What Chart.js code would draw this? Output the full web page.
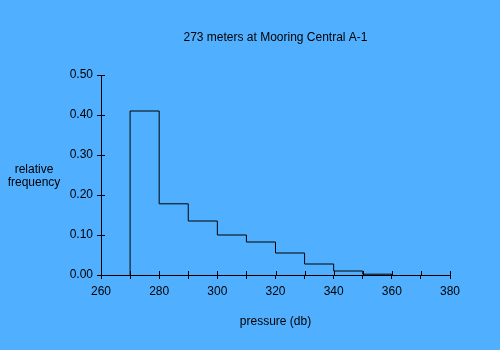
<!DOCTYPE html>
<html>
<head>
<meta charset="utf-8">
<script src="https://cdn.jsdelivr.net/npm/chart.js@4/dist/chart.umd.min.js"></script>
<style>
  html,body{margin:0;padding:0;background:#50B0FF;}
  #wrap{width:500px;height:350px;position:relative;}
</style>
</head>
<body>
<div id="wrap"><canvas id="c" width="500" height="350"></canvas></div>
<script>
const chartTitle = "273 meters at Mooring Central A-1";
const xTitle = "pressure (db)";
const yTitleLines = ["relative", "frequency"];
const binStarts = [270, 280, 290, 300, 310, 320, 330, 340, 350];
const binWidth = 10;
const frequencies = [0.41, 0.178, 0.135, 0.100, 0.0825, 0.055, 0.0275, 0.010, 0.002];
const xTickValues = [260, 280, 300, 320, 340, 360, 380];
const yTickValues = [0.0, 0.1, 0.2, 0.3, 0.4, 0.5];

// build step outline points from the bins
const points = [{x: binStarts[0], y: 0}];
binStarts.forEach((s, i) => points.push({x: s, y: frequencies[i]}));
points.push({x: binStarts[binStarts.length - 1] + binWidth, y: 0});

const FONT = "'Liberation Sans', Arial, sans-serif";

const extras = {
  id: 'extras',
  afterDraw(chart) {
    const ctx = chart.ctx;
    const xs = chart.scales.x, ys = chart.scales.y;
    ctx.save();
    ctx.strokeStyle = '#000';
    ctx.lineWidth = 1;
    // inward halves of crossing tick marks
    ctx.beginPath();
    xs.ticks.forEach(t => {
      const px = Math.round(xs.getPixelForValue(t.value)) + 0.5;
      ctx.moveTo(px, ys.bottom);
      ctx.lineTo(px, ys.bottom - 4);
    });
    ys.ticks.forEach(t => {
      const py = Math.round(ys.getPixelForValue(t.value)) + 0.5;
      ctx.moveTo(xs.left, py);
      ctx.lineTo(xs.left + 4, py);
    });
    ctx.stroke();
    // texts
    ctx.fillStyle = '#000';
    ctx.font = '12px ' + FONT;
    ctx.textAlign = 'center';
    ctx.textBaseline = 'middle';
    ctx.fillText(chartTitle, (xs.left + xs.right) / 2, 38);
    ctx.fillText(xTitle, (xs.left + xs.right) / 2, 322);
    ctx.fillText(yTitleLines[0], 34, 170);
    ctx.fillText(yTitleLines[1], 34, 183);
    ctx.restore();
  }
};

new Chart(document.getElementById('c'), {
  type: 'line',
  data: {
    datasets: [{
      data: points,
      stepped: 'before',
      borderColor: '#000',
      borderWidth: 1,
      pointRadius: 0,
      fill: false
    }]
  },
  options: {
    responsive: false,
    animation: false,
    layout: {padding: {left: 0, right: 50, top: 75, bottom: 0}},
    plugins: {legend: {display: false}, tooltip: {enabled: false}, title: {display: false}},
    scales: {
      x: {
        type: 'linear',
        min: 260, max: 380,
        afterFit(s) { s.height = 75; },
        afterBuildTicks(s) {
          const t = [];
          for (let v = 260; v <= 380; v += 10) t.push({value: v});
          s.ticks = t;
        },
        ticks: {
          autoSkip: false,
          maxRotation: 0,
          color: '#000',
          font: {family: FONT, size: 12},
          padding: 5,
          callback: v => xTickValues.includes(v) ? String(v) : ''
        },
        grid: {drawOnChartArea: false, drawTicks: true, tickLength: 4, color: '#000'},
        border: {display: true, color: '#000', width: 1}
      },
      y: {
        min: 0, max: 0.5,
        afterFit(s) { s.width = 101; },
        afterBuildTicks(s) { s.ticks = yTickValues.map(v => ({value: v})); },
        ticks: {
          color: '#000',
          font: {family: FONT, size: 12},
          padding: 4,
          callback: v => Number(v).toFixed(2)
        },
        grid: {drawOnChartArea: false, drawTicks: true, tickLength: 4, color: '#000'},
        border: {display: true, color: '#000', width: 1}
      }
    }
  },
  plugins: [extras]
});
</script>
</body>
</html>
